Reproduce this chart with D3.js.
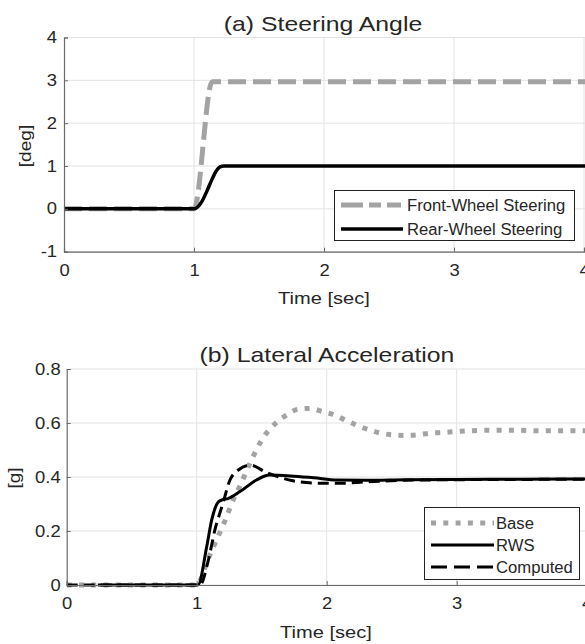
<!DOCTYPE html>
<html>
<head>
<meta charset="utf-8">
<script src="https://cdn.jsdelivr.net/npm/d3@7"></script>
<style>
  html, body { margin: 0; padding: 0; background: #fff; }
  svg { display: block; }
  text { font-family: "Liberation Sans", Arial, sans-serif; fill: #262626; }
</style>
</head>
<body>
<svg id="chart" width="585" height="644"></svg>
<script>
// ---- (a) steering angle, deg ----
const frontT = [0, 1.0, 1.14, 4.2];
const frontV = [0, 0, 2.97, 2.97];
const rearT = [0, 1.0, 1.03, 1.06, 1.1, 1.14, 1.17, 1.2, 1.23, 4.2];
const rearV = [0, 0, 0.05, 0.17, 0.42, 0.7, 0.88, 0.98, 1.0, 1.0];

// ---- (b) lateral acceleration, g ----
const baseT = [0, 1.0, 1.03, 1.06, 1.1, 1.14, 1.22, 1.28, 1.33, 1.41, 1.5, 1.62, 1.7, 1.78, 1.87, 1.97, 2.06, 2.15, 2.24, 2.33, 2.42, 2.51, 2.61, 2.7, 2.79, 2.89, 2.99, 3.09, 3.28, 3.46, 3.65, 3.95, 4.2];
const baseV = [0, 0, 0.02, 0.06, 0.11, 0.154, 0.241, 0.315, 0.364, 0.451, 0.537, 0.605, 0.632, 0.651, 0.654, 0.642, 0.63, 0.609, 0.59, 0.574, 0.562, 0.556, 0.554, 0.556, 0.562, 0.565, 0.568, 0.571, 0.573, 0.573, 0.571, 0.571, 0.571];
const rwsT = [0.24, 1.0, 1.01, 1.077, 1.115, 1.167, 1.2, 1.24, 1.33, 1.46, 1.56, 1.72, 1.9, 2.08, 2.3, 2.6, 3.0, 3.5, 4.2];
const rwsV = [0, 0, 0, 0.142, 0.24, 0.308, 0.316, 0.32, 0.345, 0.389, 0.407, 0.404, 0.397, 0.389, 0.388, 0.39, 0.391, 0.392, 0.393];
const compT = [0, 1.0, 1.025, 1.09, 1.14, 1.2, 1.256, 1.32, 1.41, 1.54, 1.74, 1.93, 2.12, 2.3, 2.6, 3.0, 3.5, 4.2];
const compV = [0, 0, 0, 0.093, 0.204, 0.30, 0.389, 0.426, 0.444, 0.416, 0.386, 0.377, 0.377, 0.382, 0.388, 0.39, 0.391, 0.392];

// ---- ticks and labels ----
const timeTicks = [0, 1, 2, 3, 4];
const degTicks = [-1, 0, 1, 2, 3, 4];
const gTicks = [0, 0.2, 0.4, 0.6, 0.8];
const titleA = "(a) Steering Angle";
const titleB = "(b) Lateral Acceleration";
const xLabel = "Time [sec]";
const yLabelA = "[deg]";
const yLabelB = "[g]";
const legendA = ["Front-Wheel Steering", "Rear-Wheel Steering"];
const legendB = ["Base", "RWS", "Computed"];

const svg = d3.select("#chart");
const zip = (ts, vs) => ts.map((t, i) => [t, vs[i]]);

// widen glyphs horizontally by factor k (keeps the text anchor in place)
function widen(sel, k) {
  sel.each(function () {
    const w = this.getComputedTextLength();
    this.setAttribute("lengthAdjust", "spacingAndGlyphs");
    this.setAttribute("textLength", (w * k).toFixed(2));
  });
}

function panel(cfg) {
  const { x, y, id } = cfg;
  const [x0, x1] = x.range();
  const [yb, yt] = y.range();
  const g = svg.append("g");

  g.append("clipPath").attr("id", id)
    .append("rect").attr("x", x0).attr("y", yt - 3).attr("width", x1 - x0 + 10).attr("height", yb - yt + 6);

  // grid
  g.append("g").selectAll("line").data(cfg.yTicks).join("line")
    .attr("x1", x0).attr("x2", 590).attr("y1", d => y(d)).attr("y2", d => y(d))
    .attr("stroke", "#e3e3e3").attr("stroke-width", 1);
  g.append("g").selectAll("line").data(cfg.xTicks.filter(d => d > 0)).join("line")
    .attr("x1", d => x(d)).attr("x2", d => x(d)).attr("y1", yt).attr("y2", yb)
    .attr("stroke", "#e3e3e3").attr("stroke-width", 1);

  // series
  const line = d3.line().x(d => x(d[0])).y(d => y(d[1])).curve(d3.curveMonotoneX);
  const lines = g.append("g").attr("clip-path", `url(#${id})`);
  cfg.series.forEach(s => {
    lines.append("path").datum(zip(s.t, s.v))
      .attr("d", line).attr("fill", "none")
      .attr("stroke", s.color).attr("stroke-width", s.width)
      .attr("stroke-dasharray", s.dash || null)
      .attr("stroke-linejoin", "round");
  });

  // axes
  const ax = g.append("g").attr("transform", `translate(0,${yb})`)
    .call(d3.axisBottom(x).tickValues(cfg.xTicks).tickSize(-4).tickPadding(13).tickFormat(d3.format("d")));
  const ay = g.append("g").attr("transform", `translate(${x0},0)`)
    .call(d3.axisLeft(y).tickValues(cfg.yTicks).tickSize(-4).tickPadding(cfg.yPad).tickFormat(cfg.yFormat));
  [ax, ay].forEach(a => {
    a.select(".domain").attr("stroke", "#6a6a6a").attr("stroke-width", 1.2);
    a.selectAll(".tick line").attr("stroke", "#6a6a6a");
    a.selectAll(".tick text").attr("font-size", 16).attr("fill", "#333")
      .attr("font-family", "Liberation Sans, Arial, sans-serif")
      .call(widen, 1.15);
  });

  // titles and labels
  g.append("text").attr("x", cfg.titleX).attr("y", cfg.titleY).attr("text-anchor", "middle")
    .attr("font-size", 21).attr("fill", "#111").text(cfg.title).call(widen, 1.18);
  g.append("text").attr("x", cfg.xLabelX).attr("y", cfg.xLabelY).attr("text-anchor", "middle")
    .attr("font-size", 17).text(xLabel).call(widen, 1.18);
  g.append("text").attr("transform", `translate(${cfg.yLabelX},${cfg.yLabelY}) rotate(-90)`)
    .attr("text-anchor", "middle").attr("font-size", 17).text(cfg.yLabel).call(widen, 1.12);

  // legend
  const L = cfg.legend;
  const lg = g.append("g");
  lg.append("rect").attr("x", L.x).attr("y", L.y).attr("width", L.w).attr("height", L.h)
    .attr("fill", "#fff").attr("stroke", "#222").attr("stroke-width", 1);
  cfg.series.forEach((s, i) => {
    const yy = L.rows[i];
    lg.append("line").attr("x1", L.lx0).attr("x2", L.lx1).attr("y1", yy).attr("y2", yy)
      .attr("stroke", s.color).attr("stroke-width", s.width)
      .attr("stroke-dasharray", s.legendDash || s.dash || null);
    lg.append("text").attr("x", L.tx).attr("y", yy).attr("dy", "0.35em")
      .attr("font-size", 16).attr("fill", "#111").text(L.names[i]).call(widen, 1.04);
  });
}

panel({
  id: "clipA",
  x: d3.scaleLinear().domain([0, 4]).range([64, 584]),
  y: d3.scaleLinear().domain([-1, 4]).range([251.7, 37.5]),
  xTicks: timeTicks, yTicks: degTicks, yPad: 7, yFormat: d => String(d),
  series: [
    { t: frontT, v: frontV, color: "#a3a3a3", width: 5, dash: "18,7", legendDash: "22,6,12,6,14" },
    { t: rearT, v: rearV, color: "#000", width: 3.5 }
  ],
  title: titleA, titleX: 323, titleY: 31,
  xLabelX: 324, xLabelY: 304,
  yLabel: yLabelA, yLabelX: 31, yLabelY: 146,
  legend: { x: 334.5, y: 190.5, w: 240, h: 50, rows: [205, 229], lx0: 341, lx1: 403, tx: 407, names: legendA }
});

panel({
  id: "clipB",
  x: d3.scaleLinear().domain([0, 4]).range([66.7, 586.7]),
  y: d3.scaleLinear().domain([0, 0.8]).range([585, 369]),
  xTicks: timeTicks, yTicks: gTicks, yPad: 6, yFormat: d => d === 0 ? "0" : d3.format(".1f")(d),
  series: [
    { t: baseT, v: baseV, color: "#a3a3a3", width: 5, dash: "5,7.3" },
    { t: rwsT, v: rwsV, color: "#000", width: 3 },
    { t: compT, v: compV, color: "#000", width: 3, dash: "11,6", legendDash: "16,7" }
  ],
  title: titleB, titleX: 327, titleY: 362,
  xLabelX: 326, xLabelY: 638,
  yLabel: yLabelB, yLabelX: 20, yLabelY: 478,
  legend: { x: 424.5, y: 507.5, w: 155, h: 72, rows: [523, 545, 567], lx0: 431, lx1: 494, tx: 496, names: legendB }
});
</script>
</body>
</html>
